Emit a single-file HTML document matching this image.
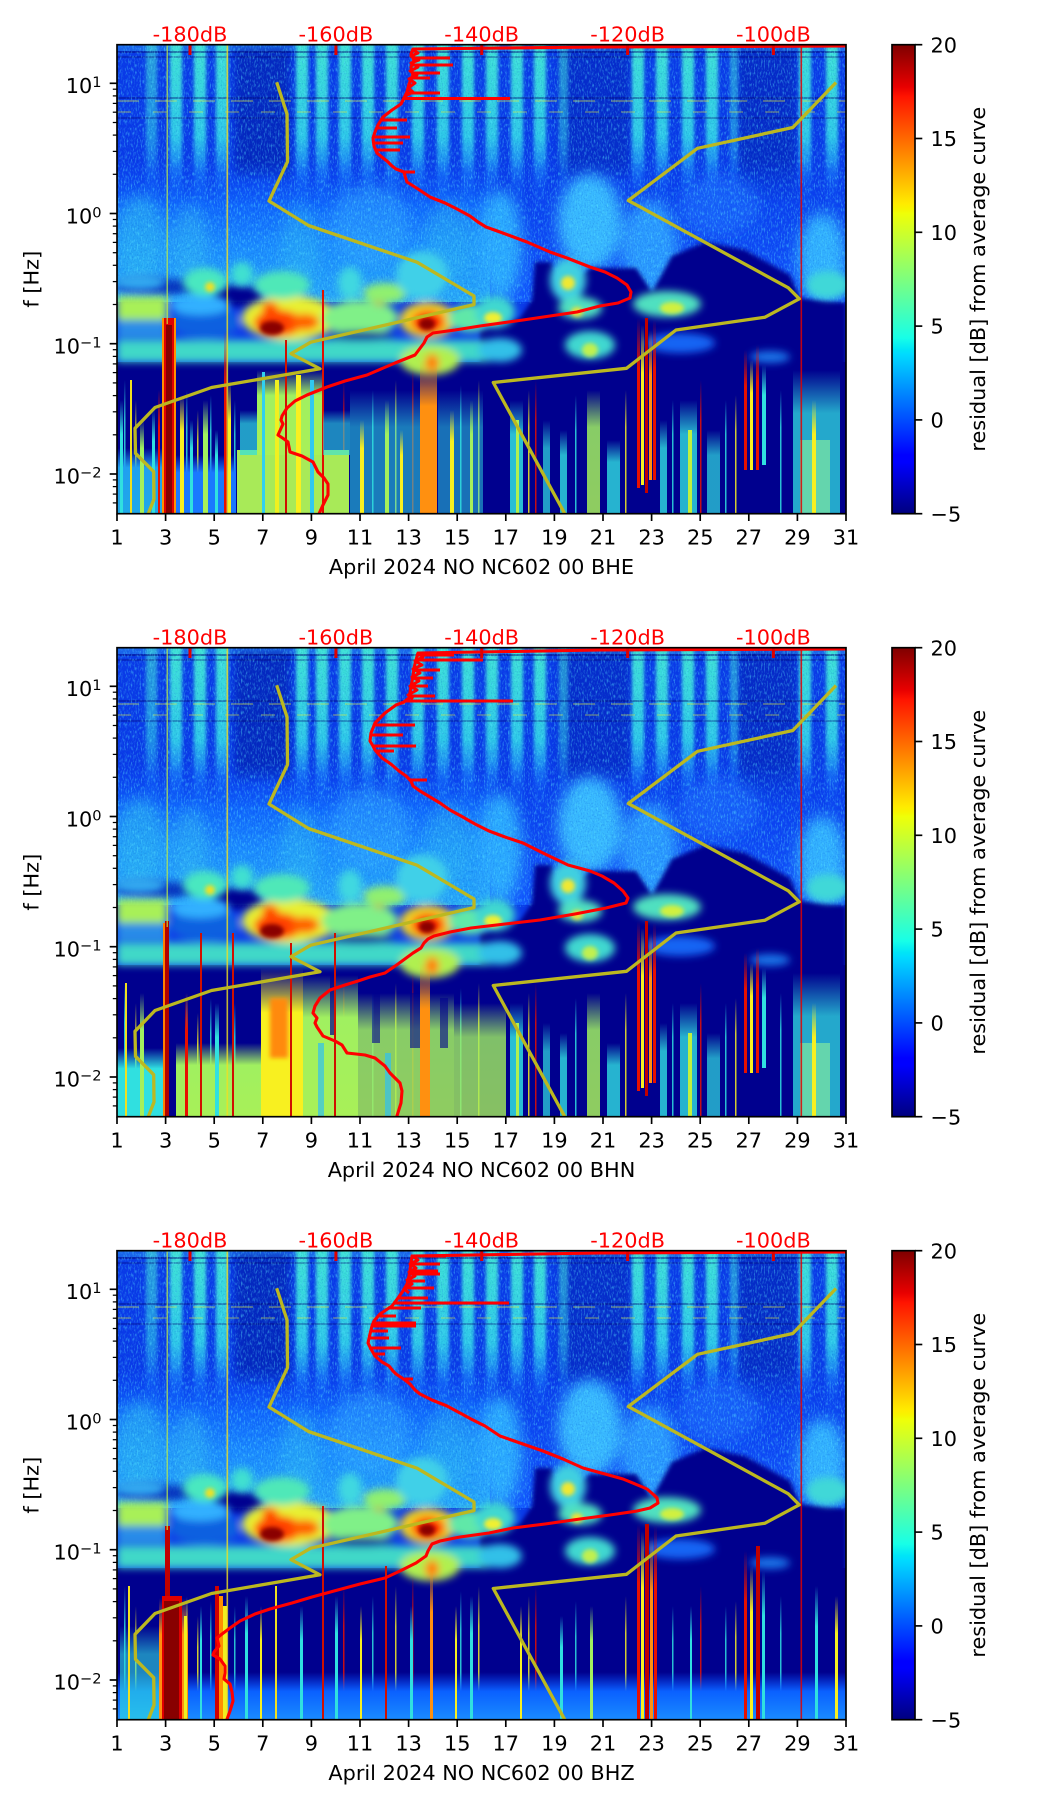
<!DOCTYPE html>
<html><head><meta charset="utf-8"><style>
html,body{margin:0;padding:0;background:#fff;width:1052px;height:1806px;overflow:hidden}
svg{display:block}
text{font-family:"DejaVu Sans","Liberation Sans",sans-serif}
</style></head><body>
<svg xmlns="http://www.w3.org/2000/svg" width="1052" height="1806" viewBox="0 0 1052 1806">
<defs>
<clipPath id="ax"><rect x="117" y="44.7" width="729" height="469"/></clipPath>
<filter id="b2" x="-30%" y="-30%" width="160%" height="160%"><feGaussianBlur stdDeviation="2"/></filter>
<filter id="bh" x="-30%" y="-5%" width="160%" height="110%"><feGaussianBlur stdDeviation="1.5 0"/></filter>
<filter id="b4" x="-40%" y="-40%" width="180%" height="180%"><feGaussianBlur stdDeviation="4"/></filter>
<filter id="b7" x="-50%" y="-50%" width="200%" height="200%"><feGaussianBlur stdDeviation="7"/></filter>
<filter id="noise" x="0" y="0" width="100%" height="100%">
<feTurbulence type="fractalNoise" baseFrequency="0.7 0.25" numOctaves="2" seed="4"/>
<feColorMatrix type="matrix" values="0 0 0 0 0.1  0 0 0 0 0.8  0 0 0 0 1  0 0 0 2.6 -1.25"/>
</filter>
<filter id="noise2" x="0" y="0" width="100%" height="100%">
<feTurbulence type="fractalNoise" baseFrequency="0.8 0.6" numOctaves="1" seed="9"/>
<feColorMatrix type="matrix" values="0 0 0 0 0  0 0 0 0 0.05  0 0 0 0 0.55  0 0 0 2.6 -1.3"/>
</filter>
<linearGradient id="jet" x1="0" y1="1" x2="0" y2="0">
<stop offset="0" stop-color="#00007f"/><stop offset="0.11" stop-color="#0000ff"/><stop offset="0.125" stop-color="#0000ff"/>
<stop offset="0.34" stop-color="#00dbff"/><stop offset="0.35" stop-color="#00e5f7"/><stop offset="0.375" stop-color="#18ffe7"/>
<stop offset="0.64" stop-color="#efff08"/><stop offset="0.65" stop-color="#f7f500"/><stop offset="0.66" stop-color="#ffec00"/>
<stop offset="0.89" stop-color="#ff1300"/><stop offset="0.91" stop-color="#e80000"/><stop offset="1" stop-color="#7f0000"/>
</linearGradient>
<linearGradient id="stripe" gradientUnits="userSpaceOnUse" x1="0" y1="44" x2="0" y2="230">
<stop offset="0" stop-color="#40e4d4" stop-opacity="1"/><stop offset="0.5" stop-color="#30d0e8" stop-opacity="0.95"/>
<stop offset="0.72" stop-color="#2098ff" stop-opacity="0.55"/><stop offset="1" stop-color="#1060ff" stop-opacity="0"/>
</linearGradient>
<linearGradient id="midL" gradientUnits="userSpaceOnUse" x1="0" y1="160" x2="0" y2="302">
<stop offset="0" stop-color="#0c48f8" stop-opacity="0"/><stop offset="0.14" stop-color="#0c50f8" stop-opacity="0.55"/>
<stop offset="0.32" stop-color="#1068ff" stop-opacity="0.9"/><stop offset="0.6" stop-color="#1a88ff"/><stop offset="1" stop-color="#28a8f8"/>
</linearGradient>
<linearGradient id="midR" gradientUnits="userSpaceOnUse" x1="0" y1="160" x2="0" y2="302">
<stop offset="0" stop-color="#0b3ef0" stop-opacity="0"/><stop offset="0.2" stop-color="#0b40f0" stop-opacity="0.7"/><stop offset="1" stop-color="#1458ff"/>
</linearGradient>
<linearGradient id="gC" x1="0" y1="0" x2="0" y2="1"><stop offset="0" stop-color="#30e0e0" stop-opacity="0"/><stop offset="0.3" stop-color="#30e0e0"/><stop offset="1" stop-color="#30e0e0"/></linearGradient>
<linearGradient id="gCB" x1="0" y1="0" x2="0" y2="1"><stop offset="0" stop-color="#20a0f0" stop-opacity="0"/><stop offset="0.3" stop-color="#20a0f0"/><stop offset="1" stop-color="#20a8e8"/></linearGradient>
<linearGradient id="gG" x1="0" y1="0" x2="0" y2="1"><stop offset="0" stop-color="#a0f060" stop-opacity="0"/><stop offset="0.3" stop-color="#a0f060"/><stop offset="1" stop-color="#a8f058"/></linearGradient>
<linearGradient id="gY" x1="0" y1="0" x2="0" y2="1"><stop offset="0" stop-color="#f8f020" stop-opacity="0"/><stop offset="0.3" stop-color="#f8f020"/><stop offset="1" stop-color="#f8f020"/></linearGradient>
<linearGradient id="gO" x1="0" y1="0" x2="0" y2="1"><stop offset="0" stop-color="#ff9010" stop-opacity="0"/><stop offset="0.3" stop-color="#ff9010"/><stop offset="1" stop-color="#ff9010"/></linearGradient>
<linearGradient id="gR" x1="0" y1="0" x2="0" y2="1"><stop offset="0" stop-color="#e81000" stop-opacity="0"/><stop offset="0.3" stop-color="#e81000"/><stop offset="1" stop-color="#e81000"/></linearGradient>
<linearGradient id="gB" x1="0" y1="0" x2="0" y2="1"><stop offset="0" stop-color="#1a78ff" stop-opacity="0"/><stop offset="0.3" stop-color="#1a78ff"/><stop offset="1" stop-color="#1a78ff"/></linearGradient>
<linearGradient id="gB2" x1="0" y1="0" x2="0" y2="1"><stop offset="0" stop-color="#0a50ff" stop-opacity="0"/><stop offset="0.4" stop-color="#0a60ff"/><stop offset="1" stop-color="#1a8cff"/></linearGradient>

<g id="sp">
<rect x="117" y="44" width="730" height="470" fill="#0a3ae8"/>
<rect x="117" y="44" width="730" height="7" fill="#2a90f0" opacity="0.5"/>
<rect x="235" y="48" width="55" height="130" fill="#001298" opacity="0.5" filter="url(#b4)"/>
<rect x="560" y="48" width="70" height="130" fill="#001298" opacity="0.35" filter="url(#b4)"/>
<rect x="738" y="48" width="58" height="150" fill="#001298" opacity="0.4" filter="url(#b4)"/>
<g fill="url(#stripe)" filter="url(#bh)">
<rect x="146" y="44" width="11" height="190" opacity="0.6"/><rect x="170" y="44" width="12" height="190"/>
<rect x="194" y="44" width="12" height="190"/><rect x="216" y="44" width="12" height="190"/>
<rect x="296" y="44" width="12" height="190"/><rect x="316" y="44" width="12" height="190"/>
<rect x="339" y="44" width="12" height="190"/><rect x="362" y="44" width="12" height="190"/>
<rect x="386" y="44" width="12" height="190"/><rect x="412" y="44" width="12" height="190"/>
<rect x="437" y="44" width="12" height="190"/><rect x="462" y="44" width="12" height="190"/>
<rect x="486" y="44" width="12" height="190"/><rect x="511" y="44" width="12" height="190"/>
<rect x="534" y="44" width="12" height="190"/><rect x="559" y="44" width="9" height="190" opacity="0.55"/>
<rect x="632" y="44" width="12" height="190"/><rect x="656" y="44" width="12" height="190"/>
<rect x="682" y="44" width="12" height="190"/><rect x="706" y="44" width="12" height="190"/>
<rect x="730" y="44" width="8" height="190" opacity="0.55"/><rect x="799" y="44" width="12" height="190"/>
<rect x="826" y="44" width="12" height="190"/>
</g>
<g stroke-width="1.5" fill="none">
<line x1="117" y1="52" x2="846" y2="52" stroke="#000070" opacity="0.6"/>
<line x1="117" y1="57" x2="846" y2="57" stroke="#000070" opacity="0.4"/>
<line x1="117" y1="98" x2="846" y2="98" stroke="#000070" opacity="0.5"/>
<line x1="117" y1="118" x2="846" y2="118" stroke="#000070" opacity="0.4"/>
<line x1="117" y1="101" x2="846" y2="101" stroke="#f0f030" opacity="0.45" stroke-dasharray="22 16"/>
<line x1="117" y1="112" x2="846" y2="112" stroke="#f0f030" opacity="0.4" stroke-dasharray="14 22"/>
</g>
<rect x="117" y="160" width="373" height="142" fill="url(#midL)"/>
<rect x="490" y="160" width="357" height="142" fill="url(#midR)"/>
<g filter="url(#b7)">
<ellipse cx="140" cy="240" rx="25" ry="45" fill="#30c0f0" opacity="0.55"/>
<ellipse cx="190" cy="245" rx="18" ry="40" fill="#30c0f0" opacity="0.45"/>
<ellipse cx="300" cy="245" rx="20" ry="40" fill="#30c0f0" opacity="0.4"/>
<ellipse cx="370" cy="225" rx="40" ry="40" fill="#30b0ff" opacity="0.45"/>
<ellipse cx="450" cy="240" rx="25" ry="40" fill="#30c0f0" opacity="0.4"/>
<ellipse cx="500" cy="245" rx="22" ry="55" fill="#2aa8ff"/>
<ellipse cx="590" cy="222" rx="32" ry="48" fill="#38b8ff"/>
<ellipse cx="650" cy="250" rx="28" ry="50" fill="#2a98ff"/>
<ellipse cx="822" cy="258" rx="24" ry="45" fill="#30b0ff"/>
<ellipse cx="720" cy="205" rx="40" ry="30" fill="#1a70ff" opacity="0.6"/>
</g>
<rect x="117" y="44" width="729" height="260" filter="url(#noise)" opacity="0.55"/>
<rect x="117" y="44" width="729" height="260" filter="url(#noise2)" opacity="0.3"/>
<rect x="117" y="362" width="730" height="152" fill="#00008e"/>
<polygon points="480,330 520,318 532,300 535,262 552,262 560,292 590,268 636,268 652,292 672,256 705,242 745,250 790,275 800,298 846,303 846,514 480,514" fill="#00008e" filter="url(#b2)"/>
<g filter="url(#b4)">
<ellipse cx="236" cy="296" rx="28" ry="11" fill="#000090"/>
<ellipse cx="160" cy="287" rx="45" ry="8" fill="#0018b0" opacity="0.8"/>
</g>
<g filter="url(#b4)">
<rect x="117" y="296" width="50" height="24" fill="#a8f058"/>
<rect x="117" y="320" width="50" height="18" fill="#30a0e8" opacity="0.8"/>
<rect x="117" y="340" width="373" height="22" fill="#40d8c8"/>
<ellipse cx="205" cy="322" rx="35" ry="16" fill="#1060e0"/>
<ellipse cx="200" cy="305" rx="30" ry="10" fill="#30b0ff"/>
<ellipse cx="290" cy="318" rx="48" ry="22" fill="#e8f030"/>
<ellipse cx="360" cy="318" rx="38" ry="18" fill="#80f088"/>
<ellipse cx="428" cy="320" rx="28" ry="18" fill="#f0d020"/>
<ellipse cx="470" cy="318" rx="22" ry="14" fill="#60e8a8"/>
<ellipse cx="278" cy="323" rx="24" ry="13" fill="#ff4000"/>
<ellipse cx="305" cy="322" rx="14" ry="8" fill="#ff6000"/>
<ellipse cx="270" cy="308" rx="8" ry="6" fill="#ff5000"/>
<ellipse cx="428" cy="322" rx="16" ry="11" fill="#ff2000"/>
<ellipse cx="380" cy="300" rx="7" ry="5" fill="#e02000"/>
<ellipse cx="360" cy="336" rx="35" ry="5" fill="#000090" opacity="0.8"/>
<ellipse cx="430" cy="360" rx="30" ry="15" fill="#b0f050"/>
<ellipse cx="432" cy="363" rx="7" ry="9" fill="#ff8000"/>
<ellipse cx="205" cy="282" rx="22" ry="14" fill="#48e8c0"/>
<ellipse cx="242" cy="274" rx="11" ry="12" fill="#40e0d0"/>
<ellipse cx="282" cy="285" rx="28" ry="14" fill="#50e8b8"/>
<ellipse cx="350" cy="283" rx="12" ry="16" fill="#40d8e0"/>
<ellipse cx="385" cy="293" rx="22" ry="10" fill="#90f070"/>
<ellipse cx="422" cy="275" rx="26" ry="24" fill="#40d0e8"/>
<ellipse cx="140" cy="282" rx="25" ry="8" fill="#30a8f0"/>
<ellipse cx="495" cy="312" rx="20" ry="16" fill="#40d8d0"/>
<ellipse cx="568" cy="280" rx="18" ry="22" fill="#40d0e0"/>
<ellipse cx="580" cy="308" rx="22" ry="11" fill="#50e0c0"/>
<ellipse cx="667" cy="304" rx="34" ry="13" fill="#50e0c0"/>
<ellipse cx="828" cy="285" rx="22" ry="14" fill="#40d8d8"/>
<ellipse cx="500" cy="350" rx="22" ry="12" fill="#30c0e8"/>
<ellipse cx="590" cy="345" rx="25" ry="14" fill="#40d8d0"/>
<ellipse cx="680" cy="343" rx="35" ry="10" fill="#1870ff" opacity="0.9"/>
<ellipse cx="770" cy="357" rx="20" ry="6" fill="#2090ff" opacity="0.8"/>
</g>
<g filter="url(#b2)">
<ellipse cx="272" cy="328" rx="12" ry="7" fill="#8a0000"/>
<ellipse cx="427" cy="324" rx="8" ry="6" fill="#8a0000"/>
<circle cx="210" cy="287" r="5" fill="#f0e020"/>
<ellipse cx="493" cy="318" rx="9" ry="6" fill="#f0f030"/>
<ellipse cx="568" cy="283" rx="7" ry="7" fill="#f0e830"/>
<ellipse cx="577" cy="312" rx="6" ry="5" fill="#f0e030"/>
<ellipse cx="672" cy="308" rx="12" ry="6" fill="#d0f040"/>
<ellipse cx="590" cy="350" rx="8" ry="7" fill="#c0f050"/>
</g>
<g opacity="0.85">
<rect x="124" y="380" width="1.5" height="134" fill="url(#gC)"/>
<rect x="135" y="400" width="1.5" height="114" fill="url(#gY)"/>
<rect x="186" y="390" width="1.5" height="124" fill="url(#gC)"/>
<rect x="197" y="410" width="1.5" height="104" fill="url(#gY)"/>
<rect x="210" y="395" width="1.5" height="119" fill="url(#gC)"/>
<rect x="234" y="400" width="1.5" height="114" fill="url(#gC)"/>
<rect x="343" y="380" width="1.5" height="134" fill="url(#gR)"/>
<rect x="372" y="390" width="1.5" height="124" fill="url(#gC)"/>
<rect x="395" y="380" width="1.5" height="134" fill="url(#gY)"/>
<rect x="412" y="370" width="1.5" height="144" fill="url(#gR)"/>
<rect x="460" y="385" width="1.5" height="129" fill="url(#gC)"/>
<rect x="478" y="380" width="1.5" height="134" fill="url(#gY)"/>
<rect x="528" y="390" width="1.5" height="124" fill="url(#gY)"/>
<rect x="535" y="380" width="1.5" height="134" fill="url(#gR)"/>
<rect x="575" y="395" width="1.5" height="119" fill="url(#gC)"/>
<rect x="625" y="390" width="1.5" height="124" fill="url(#gY)"/>
<rect x="672" y="400" width="1.5" height="114" fill="url(#gC)"/>
<rect x="700" y="380" width="1.5" height="134" fill="url(#gR)"/>
<rect x="725" y="400" width="1.5" height="114" fill="url(#gC)"/>
<rect x="735" y="395" width="1.5" height="119" fill="url(#gY)"/>
<rect x="780" y="390" width="1.5" height="124" fill="url(#gC)"/>
</g>
</g>

<g id="lowR">
<rect x="510" y="400" width="13" height="114" fill="url(#gC)" opacity="0.85"/>
<rect x="516" y="420" width="3" height="94" fill="#b0f050"/>
<rect x="543" y="420" width="7" height="94" fill="url(#gC)" opacity="0.7"/>
<rect x="560" y="430" width="7" height="84" fill="url(#gC)" opacity="0.8"/>
<rect x="587" y="390" width="13" height="124" fill="url(#gG)" opacity="0.85"/>
<rect x="607" y="440" width="13" height="74" fill="url(#gC)" opacity="0.8"/>
<rect x="637" y="318" width="3" height="170" fill="url(#gR)"/>
<rect x="641" y="325" width="3" height="160" fill="url(#gY)"/>
<rect x="645" y="318" width="3" height="175" fill="#c00000"/>
<rect x="649" y="330" width="3" height="150" fill="url(#gO)"/>
<rect x="653" y="320" width="3" height="160" fill="url(#gR)"/>
<rect x="660" y="420" width="7" height="94" fill="url(#gC)" opacity="0.8"/>
<rect x="680" y="400" width="17" height="114" fill="url(#gC)" opacity="0.8"/>
<rect x="688" y="430" width="4" height="84" fill="#c0f040"/>
<rect x="707" y="430" width="13" height="84" fill="url(#gC)" opacity="0.7"/>
<rect x="744" y="350" width="3" height="120" fill="url(#gR)"/>
<rect x="750" y="360" width="3" height="110" fill="url(#gY)"/>
<rect x="756" y="345" width="3" height="125" fill="url(#gR)"/>
<rect x="762" y="365" width="4" height="100" fill="url(#gC)"/>
<rect x="793" y="370" width="47" height="144" fill="url(#gC)" opacity="0.75"/>
<rect x="800" y="440" width="30" height="74" fill="#80e8a0" opacity="0.7"/>
<rect x="812" y="400" width="4" height="114" fill="url(#gY)"/>
</g>

<g id="vlines">
<rect x="166.5" y="44" width="1.5" height="280" fill="#c0f040" opacity="0.7"/>
<rect x="226.5" y="44" width="1.6" height="470" fill="#f0e020" opacity="0.8"/>
<rect x="800.5" y="44" width="1.6" height="470" fill="#e00000" opacity="0.85"/>
</g>

<g id="nm" fill="none" stroke="#bcb820" stroke-width="3.3" stroke-linejoin="round">
<path d="M276.7,82.3 L287,114 L287.5,161.7 L269,201 L308.5,225.5 L417,262.2 L474,296 L474,304.6 L310.7,342.2 L291,353.7 L320,368.8 L211.5,387.5 L155,407.5 L135,428.3 L135.5,453.3 L153.7,471.7 L154,499 L147.8,515"/>
<path d="M565.5,515 L493.3,382.5 L626.5,368.3 L676,330 L765,317.2 L799.3,298.8 L788.3,287.8 L628.3,200.5 L697.5,148.3 L792.8,127.5 L836,82.5"/>
</g>

<g id="deco">
<g stroke="#e00000" stroke-width="3">
<line x1="190" y1="45" x2="190" y2="55"/><line x1="335.9" y1="45" x2="335.9" y2="55"/>
<line x1="481.7" y1="45" x2="481.7" y2="55"/><line x1="627.6" y1="45" x2="627.6" y2="55"/>
<line x1="773.4" y1="45" x2="773.4" y2="55"/>
</g>
<g fill="#ff0000" font-size="20.83" text-anchor="middle">
<text x="190" y="41.3">-180dB</text><text x="335.9" y="41.3">-160dB</text><text x="481.7" y="41.3">-140dB</text>
<text x="627.6" y="41.3">-120dB</text><text x="773.4" y="41.3">-100dB</text>
</g>
<rect x="117" y="44.7" width="729" height="469" fill="none" stroke="#000" stroke-width="1.67"/>
<g stroke="#000" stroke-width="1.67">
<line x1="117" y1="513.7" x2="117" y2="521"/><line x1="165.6" y1="513.7" x2="165.6" y2="521"/>
<line x1="214.2" y1="513.7" x2="214.2" y2="521"/><line x1="262.8" y1="513.7" x2="262.8" y2="521"/>
<line x1="311.4" y1="513.7" x2="311.4" y2="521"/><line x1="360" y1="513.7" x2="360" y2="521"/>
<line x1="408.6" y1="513.7" x2="408.6" y2="521"/><line x1="457.2" y1="513.7" x2="457.2" y2="521"/>
<line x1="505.8" y1="513.7" x2="505.8" y2="521"/><line x1="554.4" y1="513.7" x2="554.4" y2="521"/>
<line x1="603" y1="513.7" x2="603" y2="521"/><line x1="651.6" y1="513.7" x2="651.6" y2="521"/>
<line x1="700.2" y1="513.7" x2="700.2" y2="521"/><line x1="748.8" y1="513.7" x2="748.8" y2="521"/>
<line x1="797.4" y1="513.7" x2="797.4" y2="521"/><line x1="846" y1="513.7" x2="846" y2="521"/>
<line x1="109.7" y1="83.3" x2="117" y2="83.3"/><line x1="109.7" y1="213.5" x2="117" y2="213.5"/>
<line x1="109.7" y1="343.7" x2="117" y2="343.7"/><line x1="109.7" y1="474" x2="117" y2="474"/>
</g>
<g stroke="#000" stroke-width="1.25">
<line x1="112.8" y1="502.9" x2="117" y2="502.9"/><line x1="112.8" y1="494.1" x2="117" y2="494.1"/>
<line x1="112.8" y1="486.6" x2="117" y2="486.6"/><line x1="112.8" y1="479.9" x2="117" y2="479.9"/>
<line x1="112.8" y1="434.8" x2="117" y2="434.8"/><line x1="112.8" y1="411.8" x2="117" y2="411.8"/>
<line x1="112.8" y1="395.6" x2="117" y2="395.6"/><line x1="112.8" y1="382.9" x2="117" y2="382.9"/>
<line x1="112.8" y1="372.6" x2="117" y2="372.6"/><line x1="112.8" y1="363.9" x2="117" y2="363.9"/>
<line x1="112.8" y1="356.4" x2="117" y2="356.4"/><line x1="112.8" y1="349.7" x2="117" y2="349.7"/>
<line x1="112.8" y1="304.5" x2="117" y2="304.5"/><line x1="112.8" y1="281.6" x2="117" y2="281.6"/>
<line x1="112.8" y1="265.3" x2="117" y2="265.3"/><line x1="112.8" y1="252.7" x2="117" y2="252.7"/>
<line x1="112.8" y1="242.4" x2="117" y2="242.4"/><line x1="112.8" y1="233.7" x2="117" y2="233.7"/>
<line x1="112.8" y1="226.1" x2="117" y2="226.1"/><line x1="112.8" y1="219.5" x2="117" y2="219.5"/>
<line x1="112.8" y1="174.3" x2="117" y2="174.3"/><line x1="112.8" y1="151.4" x2="117" y2="151.4"/>
<line x1="112.8" y1="135.1" x2="117" y2="135.1"/><line x1="112.8" y1="122.5" x2="117" y2="122.5"/>
<line x1="112.8" y1="112.2" x2="117" y2="112.2"/><line x1="112.8" y1="103.4" x2="117" y2="103.4"/>
<line x1="112.8" y1="95.9" x2="117" y2="95.9"/><line x1="112.8" y1="89.2" x2="117" y2="89.2"/>
</g>
<g font-size="20.83" fill="#000" text-anchor="middle">
<text x="117" y="544.3">1</text><text x="165.6" y="544.3">3</text><text x="214.2" y="544.3">5</text>
<text x="262.8" y="544.3">7</text><text x="311.4" y="544.3">9</text><text x="360" y="544.3">11</text>
<text x="408.6" y="544.3">13</text><text x="457.2" y="544.3">15</text><text x="505.8" y="544.3">17</text>
<text x="554.4" y="544.3">19</text><text x="603" y="544.3">21</text><text x="651.6" y="544.3">23</text>
<text x="700.2" y="544.3">25</text><text x="748.8" y="544.3">27</text><text x="797.4" y="544.3">29</text>
<text x="846" y="544.3">31</text>
</g>
<g font-size="20.83" fill="#000" text-anchor="end">
<text x="101.5" y="93.2">10<tspan dy="-6" font-size="14.6">1</tspan></text>
<text x="101.5" y="223.4">10<tspan dy="-6" font-size="14.6">0</tspan></text>
<text x="101.5" y="353.6">10<tspan dy="-6" font-size="14.6">−1</tspan></text>
<text x="101.5" y="483.6">10<tspan dy="-6" font-size="14.6">−2</tspan></text>
</g>
<text font-size="20.83" fill="#000" text-anchor="middle" transform="translate(38.5,279.2) rotate(-90)">f [Hz]</text>
<rect x="892" y="44.7" width="23" height="469" fill="url(#jet)"/>
<rect x="892" y="44.7" width="23" height="469" fill="none" stroke="#000" stroke-width="1.67"/>
<g stroke="#000" stroke-width="1.67">
<line x1="915" y1="44.7" x2="922.3" y2="44.7"/><line x1="915" y1="138.5" x2="922.3" y2="138.5"/>
<line x1="915" y1="232.3" x2="922.3" y2="232.3"/><line x1="915" y1="326.1" x2="922.3" y2="326.1"/>
<line x1="915" y1="419.9" x2="922.3" y2="419.9"/><line x1="915" y1="513.7" x2="922.3" y2="513.7"/>
</g>
<g font-size="20.83" fill="#000">
<text x="930.5" y="52.3">20</text><text x="930.5" y="146.1">15</text><text x="930.5" y="239.9">10</text>
<text x="930.5" y="333.7">5</text><text x="930.5" y="427.5">0</text><text x="930.5" y="521.3">−5</text>
</g>
<text font-size="20.83" fill="#000" text-anchor="middle" transform="translate(985,279.2) rotate(-90)">residual [dB] from average curve</text>
</g>
</defs>

<rect width="1052" height="1806" fill="#fff"/>

<!-- PANEL 1 -->
<g>
<g clip-path="url(#ax)">
<use href="#sp"/>
<rect x="117" y="448" width="46" height="66" fill="url(#gCB)"/>
<rect x="120" y="400" width="3" height="114" fill="url(#gC)"/>
<rect x="130" y="380" width="2" height="134" fill="#f0e020"/>
<rect x="140" y="420" width="4" height="94" fill="url(#gG)"/>
<rect x="152" y="410" width="3" height="104" fill="url(#gC)"/>
<rect x="158" y="390" width="2" height="124" fill="url(#gR)"/>
<rect x="162" y="318" width="14" height="196" fill="#ff9000"/>
<rect x="164" y="318" width="10" height="196" fill="#e00000"/>
<rect x="166" y="325" width="6" height="189" fill="#860000"/>
<rect x="176" y="455" width="60" height="59" fill="url(#gB)"/>
<rect x="180" y="395" width="4" height="119" fill="url(#gY)"/>
<rect x="190" y="420" width="3" height="94" fill="url(#gC)"/>
<rect x="203" y="400" width="5" height="114" fill="url(#gG)"/>
<rect x="215" y="430" width="3" height="84" fill="url(#gC)"/>
<rect x="224" y="330" width="3" height="184" fill="url(#gR)"/>
<rect x="228" y="380" width="3" height="134" fill="url(#gY)"/>
<rect x="237" y="450" width="112" height="64" fill="#a8ea58"/>
<rect x="240" y="410" width="17" height="45" fill="url(#gC)" opacity="0.7"/>
<rect x="257" y="370" width="66" height="85" fill="url(#gG)"/>
<rect x="262" y="372" width="3" height="142" fill="#30d0f0"/>
<rect x="275" y="380" width="4" height="134" fill="#f0f020"/>
<rect x="285" y="340" width="2" height="174" fill="#d01000"/>
<rect x="296" y="375" width="5" height="139" fill="#f8f020"/>
<rect x="310" y="380" width="4" height="134" fill="#30c8f0"/>
<rect x="322" y="290" width="2" height="224" fill="#e01000"/>
<rect x="323" y="410" width="27" height="45" fill="url(#gC)" opacity="0.6"/>
<rect x="350" y="390" width="70" height="124" fill="url(#gC)" opacity="0.55"/>
<rect x="360" y="420" width="4" height="94" fill="url(#gY)"/>
<rect x="385" y="400" width="4" height="114" fill="url(#gG)"/>
<rect x="400" y="430" width="3" height="84" fill="url(#gY)"/>
<rect x="420" y="360" width="17" height="154" fill="url(#gO)"/>
<rect x="438" y="390" width="45" height="124" fill="url(#gC)" opacity="0.5"/>
<rect x="450" y="410" width="4" height="104" fill="url(#gY)"/>
<rect x="470" y="400" width="3" height="114" fill="url(#gG)"/>
<use href="#lowR"/>
<use href="#vlines"/>
<use href="#nm"/>
<g fill="none" stroke="#ff0000" stroke-width="3.1" stroke-linejoin="round">
<path d="M846,46 L600,47 L413,49 L411,54 L414,60 L411,67 L413,75 L409,84 L407,92 L404,98 L401,104 L392,110 L383,117 L378,125 L375,132 L373,138 L374,146 L377,153 L383,158 L387,161 L392,166 L396,169 L404,172 L405,176 L407,182 L418,189 L430,197 L445,203 L457,209 L470,216 L478,222 L486,227 L500,232 L527,242 L550,252 L567,258 L590,267 L605,272 L617,278 L627,285 L631,292 L630,298 L618,303 L600,306 L577,312 L550,316 L523,320 L480,326 L455,330 L433,333 L427,337 L424,343 L415,355 L395,363 L367,375 L345,381 L327,387 L307,395 L295,401 L287,408 L282,416 L281,420 L283,424 L278,435 L284,439 L288,442 L290,452 L302,456 L313,462 L318,472 L324,478 L328,484 L328,495 L323,505 L318,516"/>
<path d="M412,58 H450 M413,65 H453 M411,73 H440 M412,78 H430 M408,93 H440 M404,98.5 H510 M381,120 H407 M376,128 H397 M374,137 H410 M374,143 H403 M376,150 H400 M404,172 H415" stroke-width="3"/>
<path d="M413,50 L418,53 L411,56 L419,60 L411,63 L418,67 L410,71 L417,75 L409,79 L415,83 L408,88 L413,92 L405,96" stroke-width="3"/>
</g>
</g>
<use href="#deco"/>
<text x="481.5" y="574" font-size="20.83" fill="#000" text-anchor="middle">April 2024 NO NC602 00 BHE</text>
</g>

<!-- PANEL 2 -->
<g transform="translate(0,603)">
<g clip-path="url(#ax)">
<use href="#sp"/>
<rect x="117" y="445" width="48" height="69" fill="url(#gC)"/>
<rect x="125" y="380" width="2" height="134" fill="#f0e020"/>
<rect x="140" y="390" width="4" height="124" fill="url(#gG)"/>
<rect x="163" y="320" width="4" height="194" fill="#ff8000"/>
<rect x="165" y="318" width="4" height="196" fill="#b00000"/>
<rect x="176" y="440" width="85" height="74" fill="url(#gG)"/>
<rect x="185" y="390" width="3" height="124" fill="url(#gR)"/>
<rect x="200" y="330" width="2" height="184" fill="#d01000"/>
<rect x="232" y="330" width="2" height="184" fill="#d01000"/>
<rect x="215" y="400" width="4" height="114" fill="url(#gC)"/>
<rect x="261" y="365" width="42" height="149" fill="url(#gY)"/>
<rect x="270" y="395" width="18" height="60" fill="#ff8a10" filter="url(#b2)"/>
<rect x="303" y="372" width="55" height="142" fill="url(#gG)"/>
<rect x="358" y="390" width="96" height="124" fill="url(#gG)" opacity="0.85"/>
<rect x="454" y="400" width="52" height="114" fill="url(#gG)" opacity="0.8"/>
<rect x="330" y="372" width="5" height="60" fill="#000090" opacity="0.7"/>
<rect x="372" y="390" width="8" height="50" fill="#000090" opacity="0.6"/>
<rect x="410" y="390" width="10" height="55" fill="#000090" opacity="0.6"/>
<rect x="440" y="395" width="8" height="50" fill="#000090" opacity="0.6"/>
<rect x="318" y="440" width="6" height="74" fill="#30c0f0" opacity="0.7"/>
<rect x="385" y="450" width="6" height="64" fill="#30c0f0" opacity="0.7"/>
<rect x="290" y="340" width="2" height="174" fill="#d01000"/>
<rect x="334" y="330" width="2" height="184" fill="#d01000"/>
<rect x="420" y="360" width="10" height="154" fill="url(#gO)"/>
<use href="#lowR"/>
<use href="#vlines"/>
<use href="#nm"/>
<g fill="none" stroke="#ff0000" stroke-width="3.1" stroke-linejoin="round">
<path d="M846,46 L600,47 L418,50 L416,57 L414,65 L413,73 L411,84 L409,95 L404,99 L396,102 L385,110 L375,120 L371,130 L370,138 L373,143 L375,147 L382,155 L388,159 L392,162 L399,168 L406,173 L411,178 L413,183 L420,188 L430,194 L440,200 L450,207 L461,213 L475,221 L489,228 L505,234 L523,240 L545,251 L568,262 L590,268 L602,273 L614,280 L623,288 L628,295 L626,300 L606,305 L575,311 L540,317 L505,321 L471,325 L450,329 L434,333 L428,336 L424,340 L421,345 L413,350 L398,361 L385,370 L370,374 L358,378 L345,382 L330,387 L320,395 L315,403 L313,410 L317,415 L315,420 L317,424 L323,433 L335,438 L342,442 L347,450 L365,452 L375,455 L385,463 L390,470 L396,476 L400,480 L402,488 L401,500 L396,516"/>
<path d="M416,52 H454 M416,57 H483 M414,67 H440 M413,75 H433 M412,83 H428 M409,93 H435 M405,98 H513 M374,122 H415 M371,132 H403 M372,143 H416 M376,148 H394 M411,177 H427" stroke-width="3"/>
<path d="M418,50 L423,54 L415,58 L422,62 L413,66 L420,70 L412,74 L419,78 L410,83 L417,87 L408,92 L413,96" stroke-width="3"/>
</g>
</g>
<use href="#deco"/>
<text x="481.5" y="574" font-size="20.83" fill="#000" text-anchor="middle">April 2024 NO NC602 00 BHN</text>
</g>

<!-- PANEL 3 -->
<g transform="translate(0,1206)">
<g clip-path="url(#ax)">
<use href="#sp"/>
<rect x="117" y="466" width="730" height="48" fill="url(#gB2)"/>
<rect x="120" y="420" width="40" height="94" fill="url(#gC)" opacity="0.6"/>
<rect x="128" y="380" width="2" height="134" fill="#f0e020"/>
<rect x="165" y="320" width="5" height="75" fill="#c00000"/>
<rect x="159" y="392" width="29" height="122" fill="url(#gO)"/>
<rect x="162" y="390" width="20" height="124" fill="#e00000"/>
<rect x="164" y="395" width="15" height="119" fill="#880000"/>
<rect x="184" y="410" width="3" height="104" fill="#f0f020"/>
<rect x="215" y="380" width="4" height="134" fill="#d00000"/>
<rect x="219" y="390" width="4" height="124" fill="#ff9000"/>
<rect x="223" y="400" width="4" height="114" fill="#f0f020"/>
<rect x="200" y="400" width="2" height="114" fill="url(#gC)"/>
<rect x="245" y="390" width="3" height="124" fill="url(#gC)"/>
<rect x="260" y="400" width="2" height="114" fill="url(#gY)"/>
<rect x="275" y="380" width="2" height="134" fill="#f0e020"/>
<rect x="300" y="400" width="3" height="114" fill="url(#gC)"/>
<rect x="322" y="300" width="2" height="214" fill="#d01000"/>
<rect x="335" y="390" width="3" height="124" fill="url(#gC)"/>
<rect x="360" y="400" width="2" height="114" fill="url(#gY)"/>
<rect x="385" y="360" width="2" height="154" fill="#d01000"/>
<rect x="410" y="400" width="3" height="114" fill="url(#gC)"/>
<rect x="430" y="360" width="3" height="154" fill="url(#gO)"/>
<rect x="455" y="400" width="2" height="114" fill="url(#gY)"/>
<rect x="470" y="390" width="3" height="124" fill="url(#gC)"/>
<rect x="637" y="318" width="3" height="196" fill="url(#gR)"/>
<rect x="641" y="325" width="3" height="189" fill="url(#gY)"/>
<rect x="645" y="318" width="4" height="196" fill="#c00000"/>
<rect x="650" y="330" width="3" height="184" fill="url(#gO)"/>
<rect x="654" y="320" width="3" height="194" fill="url(#gR)"/>
<rect x="744" y="345" width="3" height="169" fill="url(#gR)"/>
<rect x="750" y="360" width="3" height="154" fill="url(#gY)"/>
<rect x="756" y="340" width="4" height="174" fill="#c00000"/>
<rect x="762" y="365" width="3" height="149" fill="url(#gC)"/>
<rect x="690" y="400" width="2" height="114" fill="url(#gC)"/>
<rect x="520" y="400" width="2" height="114" fill="url(#gY)"/>
<rect x="560" y="410" width="3" height="104" fill="url(#gC)"/>
<rect x="590" y="400" width="3" height="114" fill="url(#gG)"/>
<rect x="815" y="380" width="3" height="134" fill="url(#gC)"/>
<rect x="835" y="390" width="3" height="124" fill="url(#gY)"/>
<use href="#vlines"/>
<use href="#nm"/>
<g fill="none" stroke="#ff0000" stroke-width="3.1" stroke-linejoin="round">
<path d="M846,46 L600,47 L412,50 L411,57 L410,64 L409,70 L407,78 L403,85 L398,92 L392,100 L386,104 L380,108 L374,115 L372,120 L370,128 L368,137 L371,143 L375,150 L382,156 L389,160 L393,165 L396,168 L405,174 L410,178 L415,184 L420,188 L432,194 L447,200 L460,207 L471,213 L485,220 L500,230 L520,237 L543,245 L563,253 L583,262 L605,268 L623,273 L640,280 L647,283 L654,289 L657,292 L658,297 L650,302 L637,305 L610,309 L580,313 L545,318 L513,322 L489,327 L460,331 L440,335 L432,338 L428,345 L426,350 L416,357 L400,365 L385,372 L360,378 L334,385 L312,391 L292,397 L270,403 L255,408 L240,415 L230,422 L222,428 L217,432 L219,440 L214,446 L213,449 L220,453 L225,460 L225,467 L224,473 L230,478 L232,486 L233,495 L230,505 L226,516"/>
<path d="M411,50 H446 M411,58 H440 M410,65 H438 M409,68 H440 M407,75 H425 M404,82 H434 M399,92 H428 M393,97 H509 M388,102 H421 M380,110 H396 M373,117 H416 M372,120 H416 M371,125 H388 M369,132 H389 M369,142 H401 M374,148 H385 M405,173 H413" stroke-width="3"/>
<path d="M412,50 L418,54 L410,58 L416,62 L409,66 L415,70 L407,74 L412,78 L404,83 L409,87" stroke-width="3"/>
</g>
</g>
<use href="#deco"/>
<text x="481.5" y="574" font-size="20.83" fill="#000" text-anchor="middle">April 2024 NO NC602 00 BHZ</text>
</g>
</svg>
</body></html>
